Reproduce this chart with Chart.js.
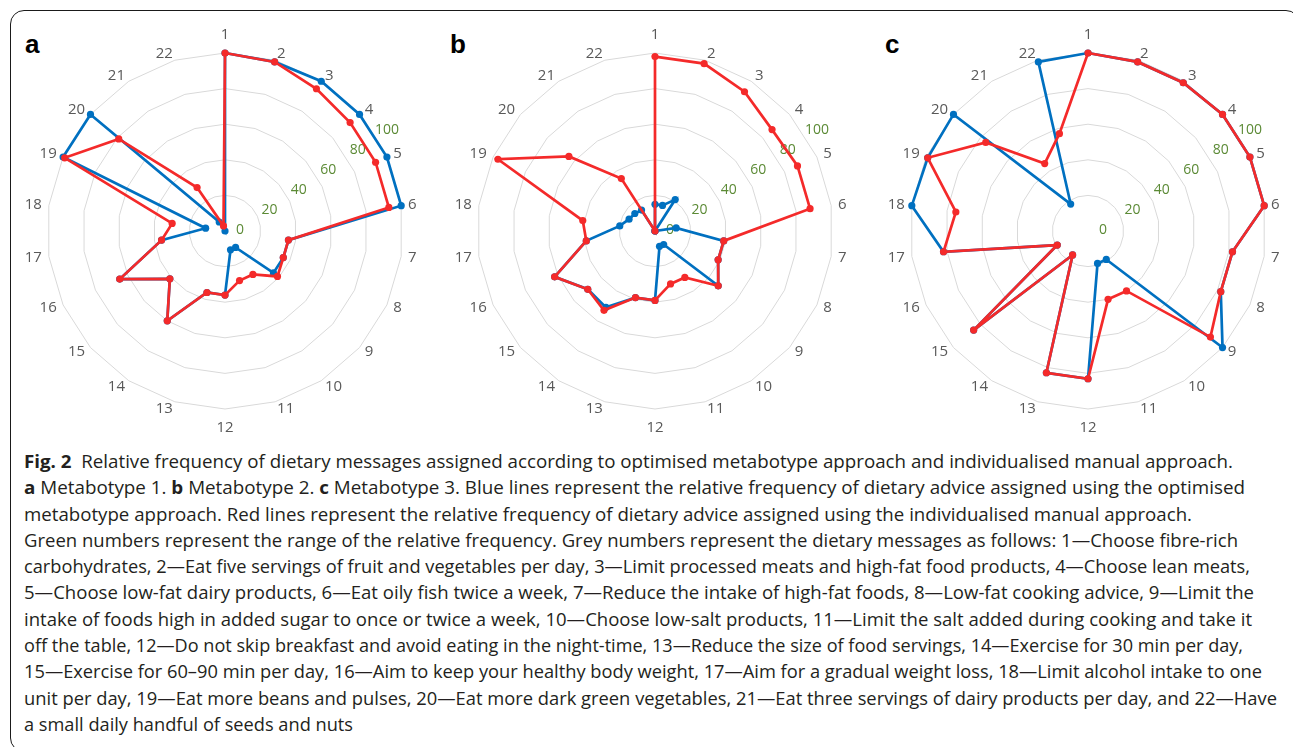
<!DOCTYPE html>
<html>
<head>
<meta charset="utf-8">
<script src="https://cdn.jsdelivr.net/npm/chart.js@4.4.0/dist/chart.umd.min.js"></script>
<style>
  body { margin: 0; width: 1293px; height: 747px; overflow: hidden; position: relative; background: #fff; font-family: "Open Sans", sans-serif; }
  .frame { position: absolute; left: 10px; top: 10px; width: 1290px; height: 742px; border: 1.3px solid #1a1a1a; border-radius: 14px; box-sizing: border-box; }
  canvas { position: absolute; }
  .panel { position: absolute; font: bold 26px "Liberation Sans", Arial, sans-serif; color: #000; line-height: 26px; }
  .caption { position: absolute; left: 24px; top: 448px; color: #231f20; font-size: 18.5px; line-height: 26.3px; }
  .caption div { white-space: nowrap; width: max-content; transform-origin: 0 50%; }
</style>
</head>
<body>
<div class="frame"></div>
<div class="panel" style="left:25px;top:31px">a</div>
<div class="panel" style="left:450px;top:31px">b</div>
<div class="panel" style="left:885px;top:31px">c</div>
<canvas id="chartA" width="416" height="416" style="left:17px;top:23px"></canvas>
<canvas id="chartB" width="416" height="416" style="left:447px;top:23px"></canvas>
<canvas id="chartC" width="416" height="416" style="left:880px;top:23px"></canvas>
<div class="caption">
  <div><b>Fig. 2</b>&nbsp; Relative frequency of dietary messages assigned according to optimised metabotype approach and individualised manual approach.</div>
  <div><b>a</b> Metabotype 1. <b>b</b> Metabotype 2. <b>c</b> Metabotype 3. Blue lines represent the relative frequency of dietary advice assigned using the optimised</div>
  <div>metabotype approach. Red lines represent the relative frequency of dietary advice assigned using the individualised manual approach.</div>
  <div>Green numbers represent the range of the relative frequency. Grey numbers represent the dietary messages as follows: 1—Choose fibre-rich</div>
  <div>carbohydrates, 2—Eat five servings of fruit and vegetables per day, 3—Limit processed meats and high-fat food products, 4—Choose lean meats,</div>
  <div>5—Choose low-fat dairy products, 6—Eat oily fish twice a week, 7—Reduce the intake of high-fat foods, 8—Low-fat cooking advice, 9—Limit the</div>
  <div>intake of foods high in added sugar to once or twice a week, 10—Choose low-salt products, 11—Limit the salt added during cooking and take it</div>
  <div>off the table, 12—Do not skip breakfast and avoid eating in the night-time, 13—Reduce the size of food servings, 14—Exercise for 30 min per day,</div>
  <div>15—Exercise for 60–90 min per day, 16—Aim to keep your healthy body weight, 17—Aim for a gradual weight loss, 18—Limit alcohol intake to one</div>
  <div>unit per day, 19—Eat more beans and pulses, 20—Eat more dark green vegetables, 21—Eat three servings of dairy products per day, and 22—Have</div>
  <div>a small daily handful of seeds and nuts</div>
</div>
<script>
// dietary message numbers (grey labels)
const messages = ['1', '2', '3', '4', '5', '6', '7', '8', '9', '10', '11',
  '12', '13', '14', '15', '16', '17', '18', '19', '20', '21', '22'];

// relative frequency, % (blue = optimised metabotype, red = individualised manual)
const optimisedA = [100, 99, 100, 100, 100, 100, 36, 36, 36, 11, 11, 36, 36, 60, 41, 65, 36, 11, 100, 100, 6, 0];
const manualA    = [100, 99, 95, 93, 93, 93, 36, 36, 39, 29, 29, 36, 36, 60, 41, 65, 36, 30, 99, 79, 29, 3];

const optimisedB = [15, 15, 21, 0, 0, 12, 39, 39, 47, 9, 9, 39, 39, 51, 50, 62, 39, 20, 16, 15, 14, 0];
const manualB    = [98, 98, 93, 87, 88, 88, 39, 39, 47, 31, 31, 39, 39, 53, 50, 62, 39, 41, 97, 64, 35, 0];

const optimisedC = [100, 99, 99, 100, 100, 100, 82, 82, 100, 19, 19, 83, 83, 16, 85, 19, 82, 100, 99, 100, 18, 99];
const manualC    = [100, 99, 99, 100, 100, 100, 82, 82, 91, 40, 40, 83, 83, 16, 85, 19, 82, 75, 99, 76, 45, 57];

// right edge of each caption line in the figure
const captionRight = [1233, 1245, 1192, 1238, 1250, 1254, 1252, 1243, 1262, 1277, 353];

const BLUE = '#0070c0';
const RED = '#f42a2a';
const GREEN = '#5b8a35';
const GREY = '#595959';

// green value numbers sit along a slanted line, under the lines
const greenNumbers = {
  id: 'greenNumbers',
  beforeDatasetsDraw(chart) {
    const s = chart.scales.r;
    const ctx = chart.ctx;
    const a = 55.7 * Math.PI / 180;
    ctx.save();
    ctx.font = '14px "Open Sans"';
    ctx.fillStyle = GREEN;
    ctx.textAlign = 'center';
    ctx.textBaseline = 'middle';
    s.ticks.forEach((t) => {
      const d = s.getDistanceFromCenterForValue(t.value);
      ctx.fillText(String(t.value), s.xCenter + 15 + d * Math.sin(a), s.yCenter - 1 - d * Math.cos(a));
    });
    ctx.restore();
  }
};

// grey message numbers, vertically centred beside each spoke (Excel style)
const messageLabels = {
  id: 'messageLabels',
  beforeDatasetsDraw(chart) {
    const s = chart.scales.r;
    const ctx = chart.ctx;
    const labels = chart.data.labels;
    const n = labels.length;
    ctx.save();
    ctx.font = '15px "Open Sans"';
    ctx.fillStyle = GREY;
    ctx.textBaseline = 'middle';
    labels.forEach((label, i) => {
      const p = s.getPointPosition(i, s.drawingArea + 7);
      let y = p.y;
      if (i === 0) {
        ctx.textAlign = 'center';
        y -= 11;
      } else if (i * 2 === n) {
        ctx.textAlign = 'center';
        y += 12;
      } else {
        ctx.textAlign = i * 2 < n ? 'left' : 'right';
      }
      ctx.fillText(label, p.x, y);
    });
    ctx.restore();
  }
};

function makeChart(id, optimised, manual) {
  return new Chart(document.getElementById(id), {
    type: 'radar',
    data: {
      labels: messages,
      datasets: [
        { label: 'Individualised manual', data: manual, borderColor: RED, backgroundColor: RED, pointBackgroundColor: RED, order: 0 },
        { label: 'Optimised metabotype', data: optimised, borderColor: BLUE, backgroundColor: BLUE, pointBackgroundColor: BLUE, order: 1 }
      ]
    },
    options: {
      responsive: false,
      animation: false,
      layout: { padding: 30 },
      plugins: { legend: { display: false }, tooltip: { enabled: false } },
      elements: {
        line: { borderWidth: 2.7, tension: 0, fill: false },
        point: { radius: 3.6, borderWidth: 0, hoverRadius: 3.6 }
      },
      scales: {
        r: {
          min: 0,
          max: 100,
          ticks: { display: false, stepSize: 20 },
          grid: { color: '#d9d9d9', lineWidth: 1 },
          angleLines: { display: false },
          pointLabels: { display: false }
        }
      }
    },
    plugins: [greenNumbers, messageLabels]
  });
}

makeChart('chartA', optimisedA, manualA);
makeChart('chartB', optimisedB, manualB);
makeChart('chartC', optimisedC, manualC);

document.querySelectorAll('.caption div').forEach((el, i) => {
  const w = el.getBoundingClientRect().width;
  el.style.transform = 'scaleX(' + ((captionRight[i] - 24) / w) + ')';
});
</script>
</body>
</html>
